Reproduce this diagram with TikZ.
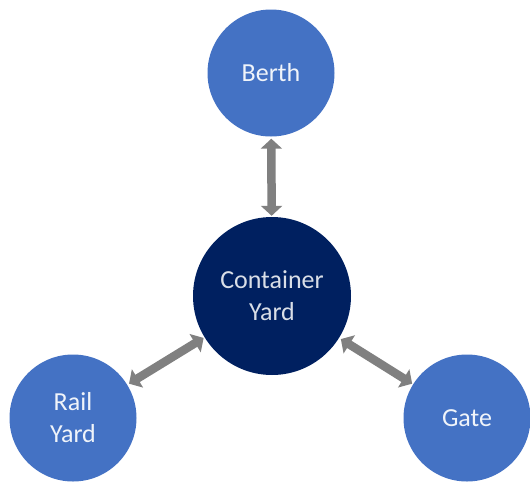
\documentclass[tikz,border=0pt]{standalone}
\usepackage{fontspec}
\setmainfont{Carlito}
\usetikzlibrary{arrows.meta}
\definecolor{siteblue}{RGB}{68,114,196}
\definecolor{yardnavy}{RGB}{0,32,96}
\definecolor{linkgray}{RGB}{128,128,128}

\begin{document}
\begin{tikzpicture}[x=1pt, y=-1pt,
  site/.style={circle, fill=siteblue, minimum size=127pt, inner sep=0pt,
    text=white!92!siteblue, align=center, font=\fontsize{26}{32}\selectfont},
  hub/.style={site, fill=yardnavy, minimum size=158pt, text=white!85!yardnavy},
  link/.style={draw=linkgray, line width=8.5pt,
    {Triangle[length=10pt,width=21pt]}-{Triangle[length=10pt,width=21pt]},
    shorten <=2pt, shorten >=1pt}]
\useasboundingbox (0,0) rectangle (530,482);
\node[hub] (cy) at (272,296) {Container\\Yard};
\node[site] (berth) at (271,73) {Berth};
\node[site] (rail) at (73,418) {Rail\\Yard};
\node[site] (gate) at (467,418) {Gate};
\draw[link] (berth) -- (cy);
\draw[link] (rail) -- (cy);
\draw[link] (cy) -- (gate);
\end{tikzpicture}
\end{document}
